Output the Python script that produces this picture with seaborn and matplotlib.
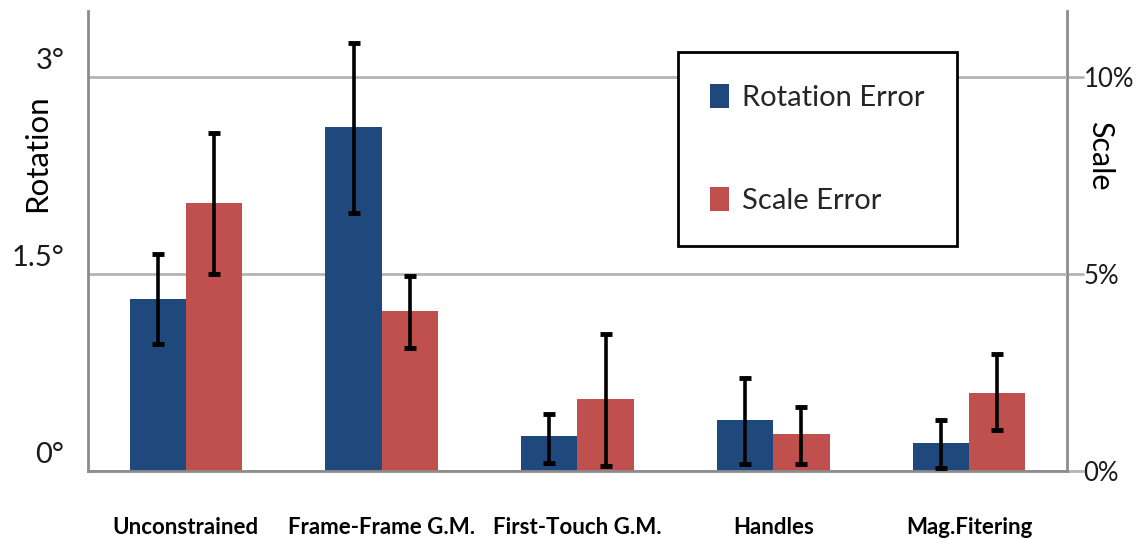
import matplotlib
matplotlib.use("Agg")
import matplotlib.pyplot as plt
import matplotlib.transforms as mtransforms
from matplotlib.patches import Patch
import numpy as np
import pandas as pd
import seaborn as sns

# Chart data.
categories = ["Unconstrained", "Frame-Frame G.M.", "First-Touch G.M.", "Handles", "Mag.Fitering"]
series = ["Rotation Error", "Scale Error"]

# Rotation error in degrees (left axis), with error bar ends.
rotation = [1.31, 2.62, 0.27, 0.39, 0.21]
rotation_low = [0.97, 1.96, 0.06, 0.05, 0.02]
rotation_high = [1.65, 3.26, 0.43, 0.71, 0.39]

# Scale error in percent (right axis), with error bar ends.
scale = [6.80, 4.06, 1.83, 0.94, 1.98]
scale_low = [5.00, 3.12, 0.13, 0.18, 1.04]
scale_high = [8.58, 4.95, 3.48, 1.62, 2.97]

rot_ticks = [0, 1.5, 3]
rot_tick_labels = ["0°", "1.5°", "3°"]
scale_ticks = [0, 5, 10]
scale_tick_labels = ["0%", "5%", "10%"]

colors = {"Rotation Error": "#1F497D", "Scale Error": "#C0504D"}
spine_color = "#8C8C8C"
grid_color = "#B4B4B4"

sns.set_style("white")
plt.rcParams["font.family"] = ["Lato", "DejaVu Sans"]

# Both axes share the same pixels: 3 degrees <-> 10 percent.
pct_per_deg = scale_ticks[-1] / rot_ticks[-1]


def deg_to_pct(v):
    return np.asarray(v) * pct_per_deg


def pct_to_deg(v):
    return np.asarray(v) / pct_per_deg


df = pd.concat([
    pd.DataFrame({"cat": categories, "val": rotation, "lo": rotation_low,
                  "hi": rotation_high, "series": series[0]}),
    pd.DataFrame({"cat": categories, "val": pct_to_deg(scale),
                  "lo": pct_to_deg(scale_low), "hi": pct_to_deg(scale_high),
                  "series": series[1]}),
], ignore_index=True)

fig = plt.figure(figsize=(11.37, 5.4), dpi=100)
ax = fig.add_axes([0.0774, 0.1278, 0.8610, 0.8518])

sns.barplot(data=df, x="cat", y="val", hue="series", order=categories,
            hue_order=series, palette=colors, width=0.575, errorbar=None,
            legend=False, ax=ax, saturation=1, linewidth=0)

# Error bars at the bar centres (patches come hue by hue, in category order).
xs = [p.get_x() + p.get_width() / 2 for p in ax.patches]
vals = df["val"].to_numpy()
yerr = [vals - df["lo"].to_numpy(), df["hi"].to_numpy() - vals]
ax.errorbar(xs, vals, yerr=yerr, fmt="none", ecolor="black",
            elinewidth=2.6, capsize=4.5, capthick=3.5, zorder=5)

ax.set_ylim(0, 3.50)
ax.set_xlim(-0.5, len(categories) - 0.5)

# Left axis: rotation.
ax.set_yticks(rot_ticks)
ax.set_yticklabels(rot_tick_labels, fontsize=21, color="#1a1a1a")
ax.yaxis.grid(True, color=grid_color, linewidth=2)
ax.xaxis.grid(False)
ax.set_axisbelow(True)
ax.tick_params(axis="y", which="major", length=15, width=2, color=grid_color,
               direction="out", pad=2)

# Shift the left tick labels up a little like the original.
offset = mtransforms.ScaledTranslation(0, 18 / 100, fig.dpi_scale_trans)
for lbl in ax.get_yticklabels():
    lbl.set_transform(lbl.get_transform() + offset)

# Right axis: scale.
ax2 = ax.secondary_yaxis("right", functions=(deg_to_pct, pct_to_deg))
ax2.set_yticks(scale_ticks)
ax2.set_yticklabels(scale_tick_labels, fontsize=18.5, color="#1a1a1a")
ax2.tick_params(axis="y", length=12, width=2, color=grid_color,
                direction="out", pad=0)
ax2.spines["right"].set_color(spine_color)
ax2.spines["right"].set_linewidth(2)
ax.text(1.0335, 0.685, "Scale", transform=ax.transAxes, fontsize=22,
        color="black", rotation=270, ha="center", va="center")

ax.spines["top"].set_visible(False)
ax.spines["right"].set_visible(False)
for side in ["left", "bottom"]:
    ax.spines[side].set_color(spine_color)
    ax.spines[side].set_linewidth(2)

# Category labels between boundary ticks.
ax.set_xticks(range(len(categories)))
ax.set_xticklabels(categories, fontsize=16, fontweight="bold", color="black")
ax.set_xticks(np.arange(-0.5, len(categories)), minor=True)
ax.tick_params(axis="x", which="major", length=0, pad=33)
ax.tick_params(axis="x", which="minor", length=12, width=2, color=spine_color,
               direction="out")

ax.set_xlabel("")
ax.set_ylabel("Rotation", fontsize=22.5, color="black")
ax.yaxis.set_label_coords(-0.038, 0.69)

handles = [Patch(facecolor=colors[s], edgecolor="none") for s in series]
leg = ax.legend(handles, series, loc="upper left",
                bbox_to_anchor=(678 / 1137, 1 - 52 / 540),
                bbox_transform=fig.transFigure, fontsize=21, frameon=True,
                fancybox=False, framealpha=1, edgecolor="black",
                handlelength=0.65, handleheight=0.9, handletextpad=0.45,
                labelspacing=2.6, borderpad=1.1, borderaxespad=0)
leg.get_frame().set_linewidth(2)
leg.set_zorder(10)

fig.savefig("out.png", dpi=100)
